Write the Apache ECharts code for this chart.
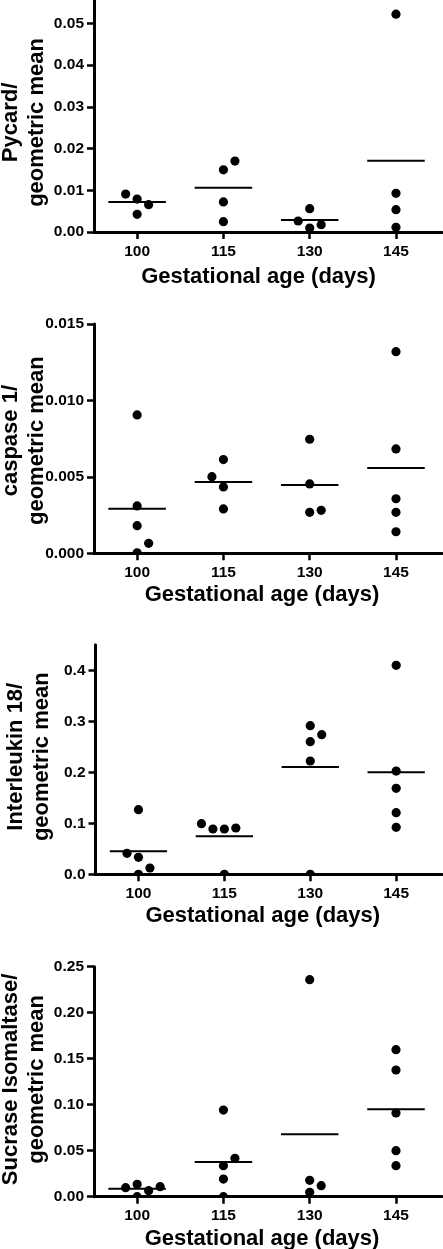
<!DOCTYPE html>
<html><head><meta charset="utf-8">
<script src="https://cdn.jsdelivr.net/npm/echarts@6/dist/echarts.min.js"></script>
<style>html,body{margin:0;padding:0;background:#fff}#c{width:443px;height:1249px}</style>
</head><body><div id="c"></div>
<script>
// ---- data ----
const categories = [100, 115, 130, 145];
const xAxisTitle = 'Gestational age (days)';

const pycardName = 'Pycard/\ngeometric mean';
const pycardValues = [
  [0.0091, 0.0079, 0.00655, 0.00424],
  [0.0149, 0.0170, 0.0072, 0.00248],
  [0.00559, 0.00264, 0.00176, 0.00096],
  [0.0522, 0.00927, 0.00535, 0.00112]
];
const pycardJitter = [[-2, 0, 2, 0], [0, 2, 0, 0], [0, -2, 2, 0], [0, 0, 0, 0]];
const pycardMeans = [0.0072, 0.0106, 0.00288, 0.01709];
const pycardTicks = [0, 0.01, 0.02, 0.03, 0.04, 0.05];

const caspaseName = 'caspase 1/\ngeometric mean';
const caspaseValues = [
  [0.00905, 0.00310, 0.00181, 0.00065, 0.00003],
  [0.00613, 0.00501, 0.00434, 0.00290],
  [0.00746, 0.00454, 0.00268, 0.00281],
  [0.01319, 0.00683, 0.00357, 0.00268, 0.00141]
];
const caspaseJitter = [[0, 0, 0, 2, 0], [0, -2, 0, 0], [0, 0, 0, 2], [0, 0, 0, 0, 0]];
const caspaseMeans = [0.00292, 0.00467, 0.00447, 0.00558];
const caspaseTicks = [0, 0.005, 0.010, 0.015];

const il18Name = 'Interleukin 18/\ngeometric mean';
const il18Values = [
  [0.1267, 0.0412, 0.0333, 0.0124, 0.0],
  [0.0992, 0.0888, 0.0888, 0.0908, 0.0],
  [0.2914, 0.2738, 0.2601, 0.2222, 0.0],
  [0.4098, 0.2025, 0.1686, 0.1208, 0.0922]
];
const il18Jitter = [[0, -2, 0, 2, 0], [-4, -2, 0, 2, 0], [0, 2, 0, 0, 0], [0, 0, 0, 0, 0]];
const il18Means = [0.0451, 0.0745, 0.2104, 0.2000];
const il18Ticks = [0, 0.1, 0.2, 0.3, 0.4];

const siName = 'Sucrase Isomaltase/\ngeometric mean';
const siValues = [
  [0.0098, 0.0135, 0.0065, 0.0109, 0.0],
  [0.0942, 0.0417, 0.0337, 0.0192, 0.0],
  [0.2359, 0.0178, 0.0120, 0.0048],
  [0.1598, 0.1377, 0.0910, 0.0500, 0.0337]
];
const siJitter = [[-2, 0, 2, 4, 0], [0, 2, 0, 0, 0], [0, 0, 2, 0], [0, 0, 0, 0, 0]];
const siMeans = [0.0087, 0.0377, 0.0678, 0.0950];
const siTicks = [0, 0.05, 0.10, 0.15, 0.20, 0.25];

// ---- layout / style ----
const FONT = '"Liberation Sans", Arial, Helvetica, sans-serif';
const panels = [
  {name: pycardName, values: pycardValues, jitter: pycardJitter, means: pycardMeans, ticks: pycardTicks, dec: 2,
   max: 0.0556, grid: {left: 94, top: 0, height: 232}, nameGap: 44, namePad: [0, 13, 0, 0],
   xNameGap: 34, xNamePad: [0, 19, 0, 0], xLabelMargin: 12},
  {name: caspaseName, values: caspaseValues, jitter: caspaseJitter, means: caspaseMeans, ticks: caspaseTicks, dec: 3,
   max: 0.015, grid: {left: 94, top: 324, height: 229.3}, nameGap: 44, namePad: [0, 4, 0, 0],
   xNameGap: 31, xNamePad: [0, 12, 0, 0], xLabelMargin: 11},
  {name: il18Name, values: il18Values, jitter: il18Jitter, means: il18Means, ticks: il18Ticks, dec: 1,
   max: 0.45, grid: {left: 95.5, top: 644.8, height: 229.5}, nameGap: 40.5, namePad: [0, 0, 0, 5.6],
   xNameGap: 30.5, xNamePad: [0, 12, 0, 0], xLabelMargin: 11},
  {name: siName, values: siValues, jitter: siJitter, means: siMeans, ticks: siTicks, dec: 2,
   max: 0.25, grid: {left: 94, top: 966.7, height: 230}, nameGap: 44, namePad: [0, 0, 0, 4.6],
   xNameGap: 31, xNamePad: [0, 12, 0, 0], xLabelMargin: 11.5}
];

const grids = [], xAxes = [], yAxes = [], series = [];
panels.forEach((p, i) => {
  grids.push(Object.assign({right: 1, containLabel: false, outerBoundsMode: 'none'}, p.grid));
  xAxes.push({
    type: 'value', gridIndex: i, min: 92.5, max: 153,
    name: xAxisTitle, nameLocation: 'middle', nameGap: p.xNameGap, nameMoveOverlap: false,
    nameTextStyle: {fontFamily: FONT, fontWeight: 'bold', fontSize: 22, color: '#000', padding: p.xNamePad},
    axisLine: {show: true, onZero: false, lineStyle: {color: '#000', width: 3}},
    axisTick: {show: true, length: 7, customValues: categories, lineStyle: {color: '#000', width: 2.5}},
    axisLabel: {show: true, customValues: categories, margin: p.xLabelMargin, hideOverlap: false,
      fontFamily: FONT, fontWeight: 'bold', fontSize: 15.5, color: '#000'},
    splitLine: {show: false}
  });
  yAxes.push({
    type: 'value', gridIndex: i, min: 0, max: p.max,
    name: p.name, nameLocation: 'middle', nameGap: p.nameGap, nameRotate: 90, nameMoveOverlap: false,
    nameTextStyle: {fontFamily: FONT, fontWeight: 'bold', fontSize: 22, lineHeight: 26, color: '#000', padding: p.namePad},
    axisLine: {show: true, onZero: false, lineStyle: {color: '#000', width: 3}},
    axisTick: {show: true, length: 7, customValues: p.ticks, lineStyle: {color: '#000', width: 2.5}},
    axisLabel: {show: true, customValues: p.ticks, margin: 10, hideOverlap: false,
      formatter: v => Number(v).toFixed(p.dec),
      fontFamily: FONT, fontWeight: 'bold', fontSize: 15.5, color: '#000'},
    splitLine: {show: false}
  });
  const dots = [];
  p.values.forEach((grp, g) => grp.forEach((v, k) => dots.push([categories[g] + p.jitter[g][k], v])));
  series.push({
    type: 'custom', xAxisIndex: i, yAxisIndex: i, clip: true, data: dots,
    renderItem: (params, api) => {
      const c = api.coord([api.value(0), api.value(1)]);
      return {type: 'circle', shape: {cx: c[0], cy: c[1], r: 4.6}, style: {fill: '#000'}};
    }
  });
  series.push({
    type: 'custom', xAxisIndex: i, yAxisIndex: i, clip: true,
    data: p.means.map((m, g) => [categories[g], m]),
    renderItem: (params, api) => {
      const a = api.coord([api.value(0) - 5, api.value(1)]);
      const b = api.coord([api.value(0) + 5, api.value(1)]);
      return {type: 'line', shape: {x1: a[0], y1: a[1], x2: b[0], y2: b[1]}, style: {stroke: '#000', lineWidth: 2}};
    }
  });
});

const chart = echarts.init(document.getElementById('c'), null, {renderer: 'canvas'});
chart.setOption({animation: false, backgroundColor: '#fff', grid: grids, xAxis: xAxes, yAxis: yAxes, series: series});
</script></body></html>
